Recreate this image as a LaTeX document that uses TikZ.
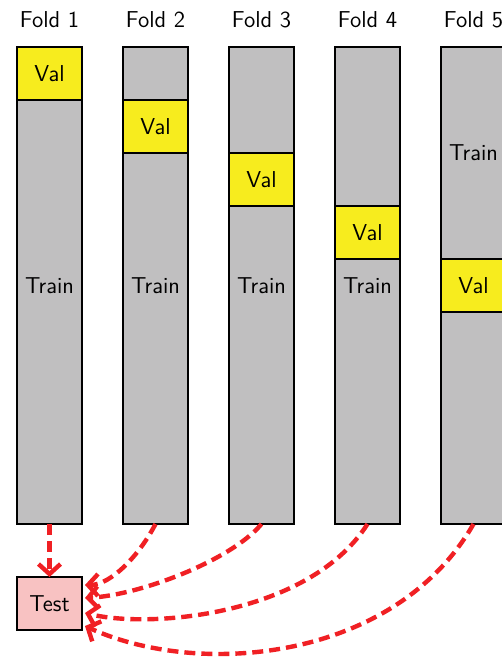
\documentclass[tikz,border=0pt]{standalone}
\usetikzlibrary{arrows.meta}
\definecolor{colgray}{RGB}{192,191,192}
\definecolor{valyellow}{RGB}{247,236,30}
\definecolor{testpink}{RGB}{248,194,194}
\definecolor{arrred}{RGB}{240,32,36}
\begin{document}
\begin{tikzpicture}[x=0.5pt,y=-0.5pt,
  every node/.style={font=\sffamily\fontsize{11.5}{14}\selectfont, inner sep=0pt, outer sep=0pt},
  colbox/.style={draw=black, line width=0.9pt, fill=colgray, anchor=north west, minimum width=32.5pt, minimum height=238.5pt},
  valbox/.style={draw=black, line width=0.9pt, fill=valyellow, anchor=north west, minimum width=32.5pt, minimum height=26.5pt},
  testbox/.style={draw=black, line width=0.9pt, fill=testpink, anchor=north west, minimum width=32.5pt, minimum height=26.5pt},
  redarrow/.style={draw=arrred, line width=2.2pt, dash pattern=on 5.5pt off 3pt, -{Straight Barb[length=5pt,width=11pt]}}]
\useasboundingbox (0,0) rectangle (502,657);
\clip (0,0) rectangle (502,657);
\foreach \i in {1,...,5} {
  \pgfmathsetmacro{\xl}{17+106*(\i-1)}
  \pgfmathsetmacro{\yv}{47+53*(\i-1)}
  \node[colbox] (col\i) at (\xl,47) {};
  \node[valbox] (val\i) at (\xl,\yv) {Val};
  \node (fold\i) at (\xl+32.5,20) {Fold \i};
}
\node (train1) at (49.5,286) {Train};
\node (train2) at (155.5,286) {Train};
\node (train3) at (261.5,286) {Train};
\node (train4) at (367.5,286) {Train};
\node (train5) at (473.5,153) {Train};
\node[testbox] (test) at (17,577) {Test};
\coordinate (e2) at (85,585);
\coordinate (e3) at (85,598);
\coordinate (e4) at (85,613);
\coordinate (e5) at (85,626);
\draw[redarrow] (col1.south) -- (test.north);
\draw[redarrow] (col2.south) .. controls +(-16,31) and +(26,0) .. (e2);
\draw[redarrow] (col3.south) .. controls +(-30,36) and +(56,-3) .. (e3);
\draw[redarrow] (col4.south) .. controls +(-58,91) and +(66,16) .. (e4);
\draw[redarrow] (col5.south) .. controls +(-78,136) and +(116,53) .. (e5);
\end{tikzpicture}
\end{document}
